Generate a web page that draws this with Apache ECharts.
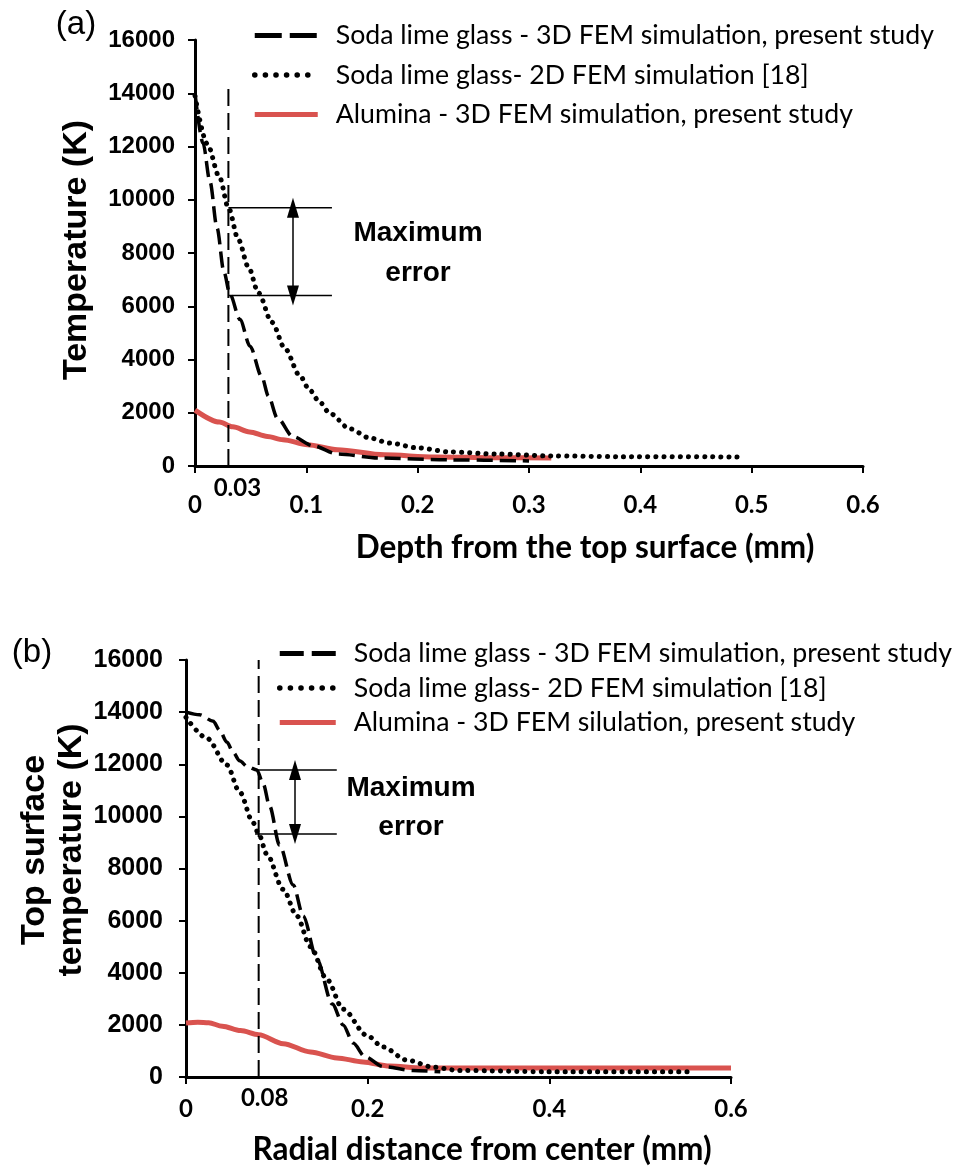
<!DOCTYPE html>
<html>
<head>
<meta charset="utf-8">
<script src="https://cdn.jsdelivr.net/npm/echarts@6/dist/echarts.min.js"></script>
<style>
    html, body { margin: 0; background: #fff; }
    #main { width: 958px; height: 1167px; }
</style>
</head>
<body>
<div id="main"></div>
<script>
// (a) temperature vs depth, [mm, K]
var depthDash3D = [[0, 14000], [0.0072, 12130], [0.0135, 10670], [0.0198, 8940], [0.026, 7290],
    [0.0314, 6450], [0.0404, 5500], [0.0494, 4500], [0.06, 3350], [0.066, 2620], [0.074, 1800],
    [0.088, 1100], [0.106, 760], [0.128, 450], [0.166, 300], [0.229, 230], [0.3, 190]];
var depthDot2D = [[0, 13900], [0.011, 12100], [0.022, 10850], [0.03, 9700], [0.039, 8500],
    [0.048, 7470], [0.057, 6500], [0.069, 5400], [0.081, 4400], [0.094, 3400], [0.103, 2850],
    [0.112, 2400], [0.121, 1980], [0.139, 1400], [0.157, 1050], [0.175, 860], [0.2, 680],
    [0.229, 530], [0.27, 450], [0.32, 380], [0.38, 350], [0.49, 340]];
var depthAlumina = [[0, 2100], [0.022, 1650], [0.034, 1470], [0.049, 1280], [0.065, 1110],
    [0.079, 990], [0.101, 800], [0.128, 610], [0.17, 420], [0.215, 340], [0.27, 310], [0.32, 300]];

// (b) top surface temperature vs radial distance, [mm, K]
var radialDash3D = [[0, 14000], [0.015, 13900], [0.03, 13650], [0.037, 13300], [0.045, 12850],
    [0.052, 12450], [0.059, 12130], [0.068, 11900], [0.078, 11780], [0.085, 11250], [0.092, 10400],
    [0.103, 8900], [0.118, 7370], [0.129, 6180], [0.144, 4530], [0.161, 2800], [0.173, 2000],
    [0.184, 1300], [0.197, 780], [0.217, 400], [0.25, 250], [0.28, 200]];
var radialDot2D = [[0, 13800], [0.023, 13000], [0.045, 11970], [0.059, 10940], [0.074, 9750],
    [0.08, 9325], [0.089, 8550], [0.107, 7200], [0.122, 6180], [0.137, 5000], [0.155, 3750],
    [0.173, 2600], [0.199, 1600], [0.217, 1150], [0.243, 650], [0.272, 380], [0.3, 250],
    [0.4, 200], [0.56, 200]];
var radialAlumina = [[0, 2070], [0.013, 2100], [0.025, 2080], [0.04, 1950], [0.06, 1780],
    [0.08, 1620], [0.107, 1280], [0.137, 960], [0.166, 730], [0.195, 580], [0.224, 420],
    [0.26, 350], [0.6, 350]];

// reference lines for the "maximum error" marks
var refLineA = [[0.03, 0], [0.03, 14200]];
var errTopA = [[0.03, 9700], [0.123, 9700]];
var errBotA = [[0.03, 6400], [0.123, 6400]];
var arrowXA = 0.088;
var refLineB = [[0.08, 0], [0.08, 16000]];
var errTopB = [[0.076, 11780], [0.166, 11780]];
var errBotB = [[0.076, 9325], [0.166, 9325]];
var arrowXB = 0.12;

var namesA = ['Soda lime glass - 3D FEM simulation, present study',
    'Soda lime glass- 2D FEM simulation [18]',
    'Alumina - 3D FEM simulation, present study'];
var namesB = ['Soda lime glass - 3D FEM simulation, present study',
    'Soda lime glass- 2D FEM simulation [18]',
    'Alumina - 3D FEM silulation, present study'];

var ARIAL = 'Liberation Sans';
var CAL = 'Lato';
var RED = '#d9534f';

var chart = echarts.init(document.getElementById('main'));

function xAxisOf(grid, interval, margin) {
    return {
        gridIndex: grid, type: 'value', min: 0, max: 0.6, interval: interval,
        axisLine: { lineStyle: { color: '#000', width: 3 } },
        axisTick: { length: 7, lineStyle: { color: '#000', width: 2 } },
        axisLabel: { color: '#000', fontFamily: CAL, fontWeight: 'bold', fontSize: 24, margin: margin },
        splitLine: { show: false }
    };
}

function yAxisOf(grid, fontSize, margin) {
    return {
        gridIndex: grid, type: 'value', min: 0, max: 16000, interval: 2000,
        axisLine: { show: true, lineStyle: { color: '#000', width: 3 } },
        axisTick: { show: true, length: 7, lineStyle: { color: '#000', width: 2 } },
        axisLabel: {
            color: '#000', fontFamily: ARIAL, fontWeight: 'bold', fontSize: fontSize, margin: margin,
            formatter: function(v) { return String(v); }
        },
        splitLine: { show: false }
    };
}

var dashStyle = { color: '#000', width: 3.5, type: [16, 7] };
var dotStyle = { color: '#000', width: 5, type: [0.1, 8], cap: 'round' };
var redStyle = { color: RED, width: 5 };

function curves(grid, names, dash, dot, alumina) {
    return [
        {
            name: names[2], type: 'line', xAxisIndex: grid, yAxisIndex: grid, data: alumina,
            symbol: 'none', smooth: 0.3, smoothMonotone: 'x', z: 2,
            lineStyle: redStyle, itemStyle: { color: RED }
        },
        {
            name: names[0], type: 'line', xAxisIndex: grid, yAxisIndex: grid, data: dash,
            symbol: 'none', smooth: 0.3, smoothMonotone: 'x', z: 3,
            lineStyle: dashStyle, itemStyle: { color: '#000' }
        },
        {
            name: names[1], type: 'line', xAxisIndex: grid, yAxisIndex: grid, data: dot,
            symbol: 'none', smooth: 0.3, smoothMonotone: 'x', z: 3,
            lineStyle: dotStyle, itemStyle: { color: '#000' }
        }
    ];
}

function marks(grid, refLine, errTop, errBot, arrowX) {
    var thin = { color: '#000', width: 1.5 };
    return [
        {
            name: 'ref' + grid, type: 'line', xAxisIndex: grid, yAxisIndex: grid, data: refLine,
            symbol: 'none', silent: true, lineStyle: { color: '#000', width: 2, type: [17, 7] }
        },
        {
            name: 'top' + grid, type: 'line', xAxisIndex: grid, yAxisIndex: grid, data: errTop,
            symbol: 'none', silent: true, lineStyle: thin
        },
        {
            name: 'bot' + grid, type: 'line', xAxisIndex: grid, yAxisIndex: grid, data: errBot,
            symbol: 'none', silent: true, lineStyle: thin,
            markLine: {
                silent: true, symbol: ['triangle', 'triangle'], symbolSize: [12, 20],
                lineStyle: { color: '#000', width: 1.5, type: 'solid' }, label: { show: false },
                data: [[{ coord: [arrowX, errBot[0][1]] }, { coord: [arrowX, errTop[0][1]] }]]
            }
        }
    ];
}

function legendOf(names, left, top, gap, width, dashLen) {
    return {
        data: [
            { name: names[0], lineStyle: { color: '#000', width: 5, type: [dashLen, 8] } },
            { name: names[1], lineStyle: { color: '#000', width: 5.5, type: [0.1, 10.5], cap: 'round' } },
            { name: names[2], lineStyle: { color: RED, width: 5 } }
        ],
        orient: 'vertical', left: left, top: top, padding: 0,
        itemWidth: width, itemHeight: 14, itemGap: gap, selectedMode: false,
        itemStyle: { opacity: 0 },
        textStyle: { color: '#000', fontFamily: CAL, fontSize: 26.7, lineHeight: 26, padding: [0, 0, 0, 13] }
    };
}

var option = {
    animation: false,
    backgroundColor: '#fff',
    grid: [
        { left: 195, top: 40, width: 668, height: 426 },
        { left: 186, top: 660, width: 545, height: 417 }
    ],
    xAxis: [xAxisOf(0, 0.1, 27), xAxisOf(1, 0.2, 20)],
    yAxis: [yAxisOf(0, 24, 20), yAxisOf(1, 25, 23)],
    legend: [legendOf(namesA, 252, 22, 12.5, 63, 27), legendOf(namesB, 277, 640, 7.5, 56, 24)],
    series: []
        .concat(curves(0, namesA, depthDash3D, depthDot2D, depthAlumina))
        .concat(marks(0, refLineA, errTopA, errBotA, arrowXA))
        .concat(curves(1, namesB, radialDash3D, radialDot2D, radialAlumina))
        .concat(marks(1, refLineB, errTopB, errBotB, arrowXB))
};
chart.setOption(option);

// labels that sit outside the regular tick scheme
var p03 = chart.convertToPixel({ gridIndex: 0 }, [0.03, 0]);
var p08 = chart.convertToPixel({ gridIndex: 1 }, [0.08, 0]);

function txt(x, y, text, font, size, weight, rot) {
    return {
        type: 'text', x: x, y: y, rotation: rot || 0, silent: true,
        style: {
            text: text, fill: '#000', fontFamily: font, fontSize: size, fontWeight: weight || 'normal',
            align: 'center', verticalAlign: 'middle'
        }
    };
}

chart.setOption({
    graphic: [
        txt(76, 25, '(a)', ARIAL, 33),
        txt(32, 653, '(b)', ARIAL, 33),
        txt(p03[0] + 9, p03[1] + 22, '0.03', CAL, 24, 'bold'),
        txt(p08[0] + 6, p08[1] + 21, '0.08', CAL, 24, 'bold'),
        txt(585, 548, 'Depth from the top surface (mm)', CAL, 31.5, 'bold'),
        txt(482, 1150, 'Radial distance from center (mm)', CAL, 31.5, 'bold'),
        txt(77, 250, 'Temperature (K)', ARIAL, 34, 'bold', Math.PI / 2),
        txt(35, 850, 'Top surface', ARIAL, 34, 'bold', Math.PI / 2),
        txt(72, 850, 'temperature (K)', ARIAL, 34, 'bold', Math.PI / 2),
        txt(418, 233, 'Maximum', ARIAL, 28, 'bold'),
        txt(418, 273, 'error', ARIAL, 28, 'bold'),
        txt(411, 788, 'Maximum', ARIAL, 28, 'bold'),
        txt(411, 827, 'error', ARIAL, 28, 'bold')
    ]
});
</script>
</body>
</html>
